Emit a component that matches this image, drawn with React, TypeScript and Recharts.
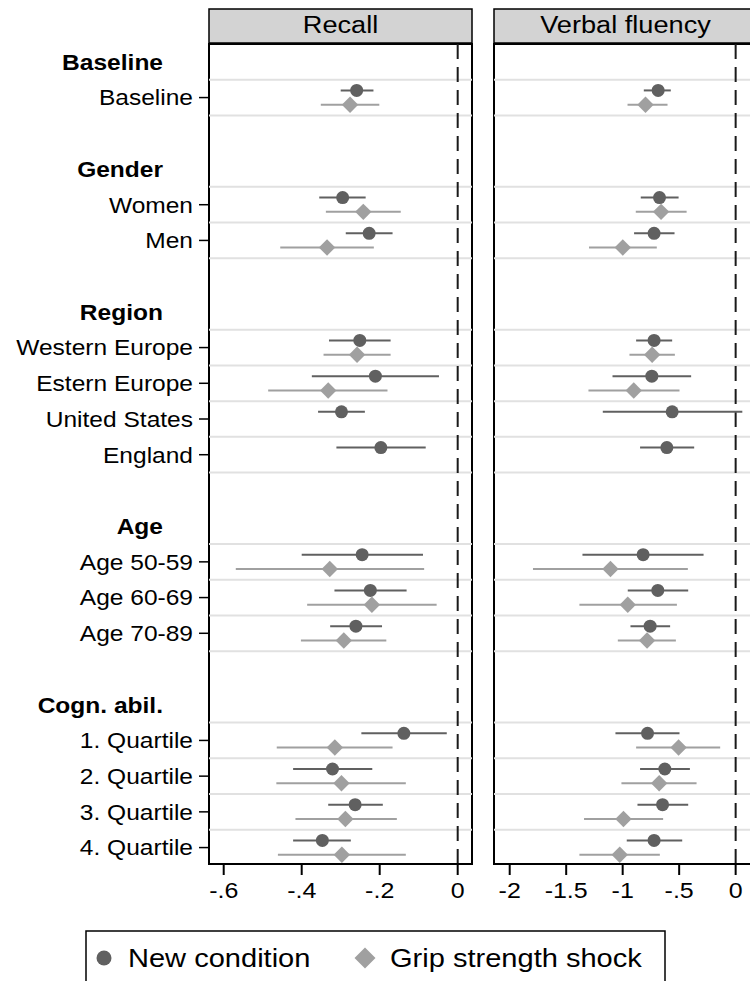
import React from "react";
import {
  ErrorBar,
  ReferenceArea,
  ReferenceLine,
  Scatter,
  ScatterChart,
  XAxis,
  YAxis,
} from "recharts";

// groups and their rows, top to bottom
const groups = ["Baseline", "Gender", "Region", "Age", "Cogn. abil."];
const groupItems = [
  ["Baseline"],
  ["Women", "Men"],
  ["Western Europe", "Estern Europe", "United States", "England"],
  ["Age 50-59", "Age 60-69", "Age 70-89"],
  ["1. Quartile", "2. Quartile", "3. Quartile", "4. Quartile"],
];

const panelTitles = ["Recall", "Verbal fluency"];
const seriesNames = ["New condition", "Grip strength shock"];

const recallTicks = [-0.6, -0.4, -0.2, 0];
const fluencyTicks = [-2, -1.5, -1, -0.5, 0];

// Recall: estimate, lower and upper CI bound per row
const recallNewEst = [-0.259, -0.295, -0.227, -0.251, -0.211, -0.298, -0.197, -0.245, -0.224, -0.261, -0.138, -0.321, -0.263, -0.347];
const recallNewLo = [-0.3, -0.355, -0.287, -0.33, -0.374, -0.358, -0.311, -0.4, -0.316, -0.327, -0.247, -0.422, -0.332, -0.422];
const recallNewHi = [-0.216, -0.236, -0.167, -0.172, -0.048, -0.238, -0.082, -0.089, -0.131, -0.194, -0.028, -0.219, -0.192, -0.274];

const recallGripEst = [-0.276, -0.242, -0.335, -0.258, -0.332, null, null, -0.328, -0.22, -0.292, -0.315, -0.298, -0.288, -0.297];
const recallGripLo = [-0.351, -0.338, -0.455, -0.344, -0.486, null, null, -0.569, -0.386, -0.402, -0.464, -0.465, -0.416, -0.461];
const recallGripHi = [-0.201, -0.146, -0.215, -0.172, -0.18, null, null, -0.086, -0.054, -0.183, -0.167, -0.133, -0.156, -0.133];

// Verbal fluency
const fluencyNewEst = [-0.686, -0.674, -0.722, -0.722, -0.742, -0.562, -0.609, -0.819, -0.689, -0.757, -0.78, -0.627, -0.647, -0.722];
const fluencyNewLo = [-0.813, -0.84, -0.899, -0.881, -1.09, -1.176, -0.846, -1.356, -0.955, -0.931, -1.064, -0.846, -0.869, -0.964];
const fluencyNewHi = [-0.574, -0.505, -0.541, -0.562, -0.394, 0.059, -0.367, -0.284, -0.42, -0.58, -0.497, -0.405, -0.42, -0.473];

const fluencyGripEst = [-0.798, -0.66, -0.999, -0.739, -0.902, null, null, -1.108, -0.955, -0.784, -0.505, -0.677, -0.993, -1.026];
const fluencyGripLo = [-0.957, -0.884, -1.298, -0.94, -1.303, null, null, -1.794, -1.383, -1.043, -0.881, -1.011, -1.342, -1.383];
const fluencyGripHi = [-0.603, -0.434, -0.698, -0.538, -0.497, null, null, -0.423, -0.52, -0.529, -0.137, -0.346, -0.642, -0.671];

const DARK = "#606060";
const LIGHT = "#a0a0a0";
const FONT = "'Liberation Sans', Arial, sans-serif";
const STRETCH = 1.1;

// row layout: heading, items, one blank row between groups
type RowInfo = { row: number; label: string; heading: boolean };
const rowInfo: RowInfo[] = [];
const itemRows: number[] = [];
let rowCursor = 0;
groups.forEach((g, gi) => {
  rowInfo.push({ row: rowCursor, label: g, heading: true });
  rowCursor++;
  groupItems[gi].forEach((it) => {
    rowInfo.push({ row: rowCursor, label: it, heading: false });
    itemRows.push(rowCursor);
    rowCursor++;
  });
  rowCursor++;
});
const lastRow = itemRows[itemRows.length - 1];
const yDomain = [-0.5, lastRow + 0.46];
const gridRows = Array.from(new Set(itemRows.flatMap((r) => [r - 0.5, r + 0.5])));

function makePoints(est: (number | null)[], lo: (number | null)[], hi: (number | null)[], offset: number) {
  return est.flatMap((v, i) =>
    v === null ? [] : [{ x: v, y: itemRows[i] + offset, err: [v - (lo[i] as number), (hi[i] as number) - v] }]
  );
}

const Dot = (p: any) => <circle cx={p.cx} cy={p.cy} r={6.5} fill={DARK} />;
const Diamond = (p: any) => {
  const s = 8.2;
  return (
    <polygon
      points={`${p.cx},${p.cy - s} ${p.cx + s},${p.cy} ${p.cx},${p.cy + s} ${p.cx - s},${p.cy}`}
      fill={LIGHT}
    />
  );
};

const fmt = (v: number) => (v === 0 ? "0" : String(v).replace("0.", "."));

const PLOT_LEFT = 209;

function YTick(props: any) {
  const info = rowInfo.find((r) => r.row === props.payload.value);
  if (!info) return null;
  const y = props.y;
  if (info.heading) {
    return (
      <text
        transform={`translate(163,${y}) scale(${STRETCH},1)`}
        textAnchor="end"
        dy="0.35em"
        fontFamily={FONT}
        fontWeight="bold"
        fontSize={22.3}
        fill="#000"
      >
        {info.label}
      </text>
    );
  }
  return (
    <g>
      <line x1={PLOT_LEFT - 10} x2={PLOT_LEFT} y1={y} y2={y} stroke="#000" strokeWidth={1.5} />
      <text
        transform={`translate(193,${y}) scale(${STRETCH},1)`}
        textAnchor="end"
        dy="0.35em"
        fontFamily={FONT}
        fontSize={22.3}
        fill="#000"
      >
        {info.label}
      </text>
    </g>
  );
}

function XTick(props: any) {
  return (
    <text
      transform={`translate(${props.x},${props.y}) scale(${STRETCH},1)`}
      textAnchor="middle"
      dy={21}
      fontFamily={FONT}
      fontSize={22.7}
      fill="#000"
    >
      {fmt(props.payload.value)}
    </text>
  );
}

function Panel(props: {
  width: number;
  margin: { top: number; right: number; bottom: number; left: number };
  domain: number[];
  ticks: number[];
  newPts: any[];
  gripPts: any[];
  labels: boolean;
}) {
  const { width, margin, domain, ticks, newPts, gripPts, labels } = props;
  return (
    <ScatterChart width={width} height={911} margin={margin}>
      <XAxis
        type="number"
        dataKey="x"
        domain={domain}
        allowDataOverflow
        ticks={ticks}
        interval={0}
        tickSize={11}
        tickLine={{ stroke: "#000", strokeWidth: 2 }}
        axisLine={{ stroke: "#000", strokeWidth: 2 }}
        tick={XTick}
        height={47}
      />
      <YAxis
        type="number"
        dataKey="y"
        domain={yDomain}
        allowDataOverflow
        reversed
        hide={!labels}
        ticks={rowInfo.map((r) => r.row)}
        interval={0}
        width={PLOT_LEFT}
        axisLine={false}
        tickLine={false}
        tick={YTick}
      />
      {gridRows.map((r) => (
        <ReferenceLine key={r} y={r} stroke="#e1e1e1" strokeWidth={2} />
      ))}
      <ReferenceLine x={0} stroke="#1a1a1a" strokeWidth={2} strokeDasharray="15 8" />
      <ReferenceArea
        x1={domain[0]}
        x2={domain[1]}
        y1={yDomain[0]}
        y2={yDomain[1]}
        fill="none"
        fillOpacity={0}
        stroke="#000"
        strokeWidth={2}
        ifOverflow="visible"
      />
      <Scatter name={seriesNames[0]} data={newPts} shape={Dot} isAnimationActive={false}>
        <ErrorBar dataKey="err" direction="x" width={0} stroke={DARK} strokeWidth={2} isAnimationActive={false} />
      </Scatter>
      <Scatter name={seriesNames[1]} data={gripPts} shape={Diamond} isAnimationActive={false}>
        <ErrorBar dataKey="err" direction="x" width={0} stroke={LIGHT} strokeWidth={2} isAnimationActive={false} />
      </Scatter>
    </ScatterChart>
  );
}

function Header({ x, title }: { x: number; title: string }) {
  return (
    <g>
      <rect x={x} y={9} width={263} height={34} fill="#d3d3d3" stroke="#000" strokeWidth={1.5} />
      <text
        transform={`translate(${x + 131.5},24) scale(${STRETCH},1)`}
        textAnchor="middle"
        dy="0.35em"
        fontFamily={FONT}
        fontSize={24.7}
        fill="#000"
      >
        {title}
      </text>
    </g>
  );
}

export default function App() {
  return (
    <div
      style={{
        position: "absolute",
        left: 0,
        top: 0,
        width: 750,
        height: 981,
        overflow: "hidden",
        background: "#fff",
      }}
    >
      <div style={{ position: "absolute", left: 0, top: 0 }}>
        <Panel
          width={480}
          margin={{ top: 44, right: 8, bottom: 0, left: 0 }}
          domain={[-0.6377, 0.0367]}
          ticks={recallTicks}
          newPts={makePoints(recallNewEst, recallNewLo, recallNewHi, -0.2)}
          gripPts={makePoints(recallGripEst, recallGripLo, recallGripHi, 0.2)}
          labels
        />
      </div>
      <div style={{ position: "absolute", left: 480, top: 0 }}>
        <Panel
          width={300}
          margin={{ top: 44, right: 23, bottom: 0, left: 14 }}
          domain={[-2.139, 0.189]}
          ticks={fluencyTicks}
          newPts={makePoints(fluencyNewEst, fluencyNewLo, fluencyNewHi, -0.2)}
          gripPts={makePoints(fluencyGripEst, fluencyGripLo, fluencyGripHi, 0.2)}
          labels={false}
        />
      </div>
      <svg
        width={750}
        height={981}
        style={{ position: "absolute", left: 0, top: 0, pointerEvents: "none" }}
      >
        <Header x={209} title={panelTitles[0]} />
        <Header x={494} title={panelTitles[1]} />
        <rect x={86} y={931} width={579} height={80} fill="#fff" stroke="#000" strokeWidth={1.5} />
        <circle cx={104} cy={958} r={7.5} fill={DARK} />
        <text
          transform={`translate(128,958) scale(${STRETCH},1)`}
          dy="0.35em"
          fontFamily={FONT}
          fontSize={26.4}
          fill="#000"
        >
          {seriesNames[0]}
        </text>
        <polygon points="365,947.5 375.5,958 365,968.5 354.5,958" fill={LIGHT} />
        <text
          transform={`translate(390,958) scale(${STRETCH},1)`}
          dy="0.35em"
          fontFamily={FONT}
          fontSize={26.4}
          fill="#000"
        >
          {seriesNames[1]}
        </text>
      </svg>
    </div>
  );
}
